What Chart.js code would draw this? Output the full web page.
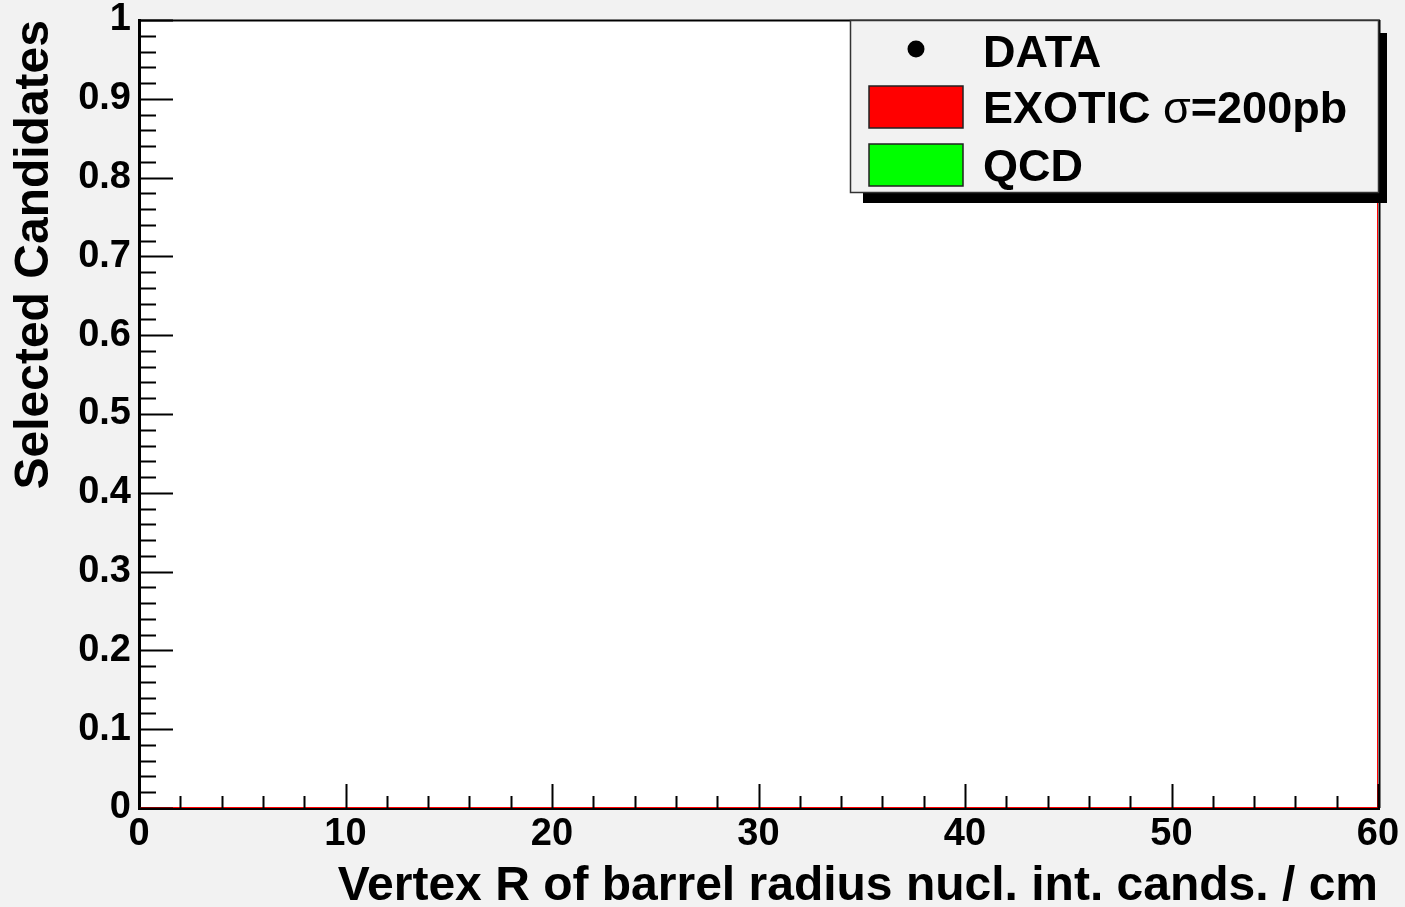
<!DOCTYPE html>
<html>
<head>
<meta charset="utf-8">
<script src="https://cdn.jsdelivr.net/npm/chart.js@4"></script>
<style>
  html, body { margin: 0; padding: 0; background: #f2f2f2; }
  #wrap { width: 1405px; height: 907px; }
</style>
</head>
<body>
<div id="wrap"><canvas id="vertexR" width="1405" height="907"></canvas></div>
<script>
// DATA
const xTickLabels = ['0', '10', '20', '30', '40', '50', '60'];
const yTickLabels = ['0', '0.1', '0.2', '0.3', '0.4', '0.5', '0.6', '0.7', '0.8', '0.9', '1'];
const xTitle = 'Vertex R of barrel radius nucl. int. cands. / cm';
const yTitle = 'Selected Candidates';

// histogram edges (cm) and contents, nothing selected in this range
const dataX = [];
const dataY = [];
const exoticX = [0, 60, 60];
const exoticY = [0, 0, 1];
const qcdX = [0, 60];
const qcdY = [0, 0];

const labels = ['DATA', 'EXOTIC \u03c3=200pb', 'QCD'];
const colors = ['#000000', '#ff0000', '#00ff00'];
// DATA

const FONT = "'Liberation Sans', Arial, Helvetica, sans-serif";

function toPoints(xs, ys) {
    return xs.map(function (x, i) { return { x: x, y: ys[i] }; });
}

// FUNCTION FOR ROOT STYLE FRAME, TICKS AND LEGEND
const rootFrame = {
    id: 'rootFrame',
    beforeDraw: function (chart) {
        const ctx = chart.ctx, a = chart.chartArea;
        ctx.save();
        ctx.fillStyle = '#f2f2f2';
        ctx.fillRect(0, 0, chart.width, chart.height);
        ctx.fillStyle = '#ffffff';
        ctx.fillRect(a.left, a.top, a.right - a.left, a.bottom - a.top);
        ctx.restore();
    },
    afterDatasetsDraw: function (chart) {
        const ctx = chart.ctx, a = chart.chartArea;
        const xs = chart.scales.x, ys = chart.scales.y;
        ctx.save();
        ctx.strokeStyle = '#000';
        ctx.lineWidth = 2;
        ctx.beginPath();
        // y ticks, major 0.1 / minor 0.02
        for (let k = 0; k <= 50; k++) {
            const py = Math.round(ys.getPixelForValue(k / 50)) + 0.5;
            const len = (k % 5 === 0) ? 34 : 17;
            ctx.moveTo(a.left, py);
            ctx.lineTo(a.left + len, py);
        }
        // x ticks, major 10 / minor 2
        for (let k = 0; k <= 30; k++) {
            const px = Math.round(xs.getPixelForValue(k * 2)) + 0.5;
            const len = (k % 5 === 0) ? 24 : 12;
            ctx.moveTo(px, a.bottom);
            ctx.lineTo(px, a.bottom - len);
        }
        ctx.stroke();
        // top and right frame
        ctx.beginPath();
        ctx.moveTo(a.left, a.top + 0.5);
        ctx.lineTo(a.right + 2, a.top + 0.5);
        ctx.moveTo(a.right + 1.5, a.top);
        ctx.lineTo(a.right + 1.5, a.bottom);
        ctx.stroke();
        ctx.restore();
    },
    afterDraw: function (chart) {
        const ctx = chart.ctx, a = chart.chartArea;
        const right = a.right + 1, top = a.top, w = 529, h = 173;
        const left = right - w;
        ctx.save();
        // shadow
        ctx.fillStyle = '#000';
        ctx.fillRect(left + 13, top + 13, w - 5, h - 3);
        // box
        ctx.fillStyle = '#f2f2f2';
        ctx.fillRect(left, top, w, h);
        ctx.strokeStyle = '#333';
        ctx.lineWidth = 1.5;
        ctx.strokeRect(left + 0.5, top + 0.5, w - 1, h - 1);

        const rows = [31, 87, 145];
        chart.data.datasets.forEach(function (ds, i) {
            const cy = top + rows[i];
            if (ds.pointStyle === 'circle') {
                ctx.fillStyle = ds.backgroundColor;
                ctx.beginPath();
                ctx.arc(left + 66, cy - 2, 8.5, 0, Math.PI * 2);
                ctx.fill();
            } else {
                ctx.fillStyle = ds.backgroundColor;
                ctx.fillRect(left + 19, cy - 21, 94, 42);
                ctx.strokeStyle = '#222';
                ctx.lineWidth = 1.5;
                ctx.strokeRect(left + 19, cy - 21, 94, 42);
            }
            // label, greek letters drawn in normal weight
            ctx.fillStyle = '#000';
            ctx.textBaseline = 'alphabetic';
            ctx.textAlign = 'left';
            let x = left + 133;
            const parts = ds.label.split(/(\u03c3)/);
            parts.forEach(function (p) {
                if (!p) return;
                ctx.font = (p === '\u03c3' ? 'normal ' : 'bold ') + '45px ' + FONT;
                ctx.fillText(p, x, cy + 16);
                x += ctx.measureText(p).width;
            });
        });
        ctx.restore();
    }
};
// FUNCTION FOR ROOT STYLE FRAME, TICKS AND LEGEND

// GRAPH
function graph() {
    const ctx = document.getElementById('vertexR').getContext('2d');
    new Chart(ctx, {
        type: 'line',
        data: {
            datasets: [{
                type: 'scatter',
                label: labels[0],
                data: toPoints(dataX, dataY),
                backgroundColor: colors[0],
                borderColor: colors[0],
                pointStyle: 'circle',
                pointRadius: 8
            }, {
                label: labels[1],
                data: toPoints(exoticX, exoticY),
                backgroundColor: colors[1],
                borderColor: colors[1],
                borderWidth: 2,
                pointRadius: 0,
                fill: false,
                tension: 0
            }, {
                label: labels[2],
                data: toPoints(qcdX, qcdY),
                backgroundColor: colors[2],
                borderColor: colors[2],
                borderWidth: 2,
                pointRadius: 0,
                fill: false,
                tension: 0
            }]
        },
        options: {
            responsive: false,
            animation: false,
            layout: { autoPadding: false, padding: { top: 20, right: 27, left: 0, bottom: 0 } },
            plugins: {
                legend: { display: false },
                tooltip: { enabled: false }
            },
            scales: {
                x: {
                    type: 'linear',
                    min: 0,
                    max: 60,
                    afterFit: function (s) {
                        s.height = 99;
                        s.paddingLeft = 0;
                        s.paddingRight = 0;
                    },
                    grid: { display: true, drawOnChartArea: false, drawTicks: false, lineWidth: 3, color: '#000' },
                    border: { display: true, width: 3, color: '#000' },
                    ticks: {
                        stepSize: 10,
                        autoSkip: false,
                        maxRotation: 0,
                        padding: 8,
                        color: '#000',
                        font: { family: FONT, size: 38, weight: 'bold', lineHeight: 1 },
                        callback: function (v, i) { return xTickLabels[i]; }
                    },
                    title: {
                        display: true,
                        text: xTitle,
                        align: 'end',
                        color: '#000',
                        padding: { top: 0, bottom: 1 },
                        font: { family: FONT, size: 48, weight: 'bold', lineHeight: 0.8 }
                    }
                },
                y: {
                    min: 0,
                    max: 1,
                    afterFit: function (s) {
                        s.width = 139;
                        s.paddingTop = 0;
                        s.paddingBottom = 0;
                    },
                    grid: { display: true, drawOnChartArea: false, drawTicks: false, lineWidth: 3, color: '#000' },
                    border: { display: true, width: 3, color: '#000' },
                    ticks: {
                        stepSize: 0.1,
                        autoSkip: false,
                        padding: 8,
                        color: '#000',
                        font: { family: FONT, size: 38, weight: 'bold', lineHeight: 1 },
                        callback: function (v, i) { return yTickLabels[i]; }
                    },
                    title: {
                        display: true,
                        text: yTitle,
                        align: 'end',
                        color: '#000',
                        padding: { top: 16, bottom: 0 },
                        font: { family: FONT, size: 48, weight: 'bold', lineHeight: 0.8 }
                    }
                }
            }
        },
        plugins: [rootFrame]
    });
}
// GRAPH

graph();
</script>
</body>
</html>
